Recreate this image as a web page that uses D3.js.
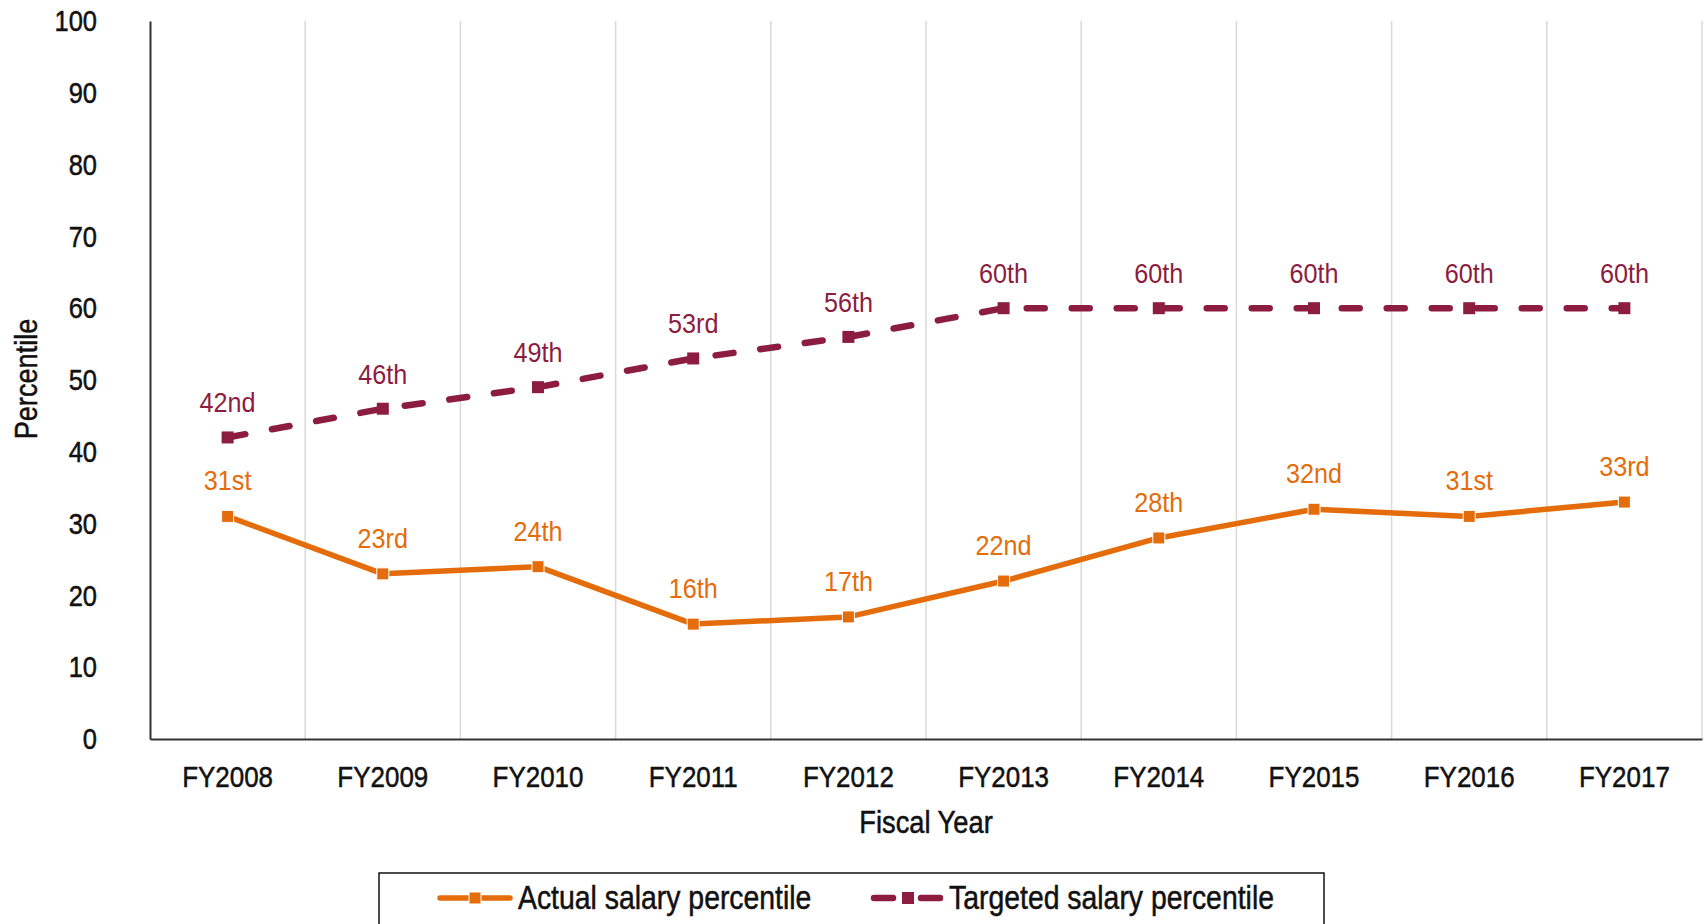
<!DOCTYPE html>
<html>
<head>
<meta charset="utf-8">
<script src="https://cdn.jsdelivr.net/npm/d3@7/dist/d3.min.js"></script>
<style>
  html, body { margin: 0; padding: 0; background: #fff; }
  svg { display: block; }
  text { font-family: "Liberation Sans Narrow", "Arial Narrow", "Liberation Sans", Arial, sans-serif; }
  .dark { fill: #111; stroke: #111; stroke-width: 0.5px; }
</style>
</head>
<body>
<svg id="chart" width="1706" height="924"></svg>
<script>
// Fiscal years on the x axis
const years = ["FY2008", "FY2009", "FY2010", "FY2011", "FY2012", "FY2013", "FY2014", "FY2015", "FY2016", "FY2017"];
// Actual salary percentile per year
const actual = [31, 23, 24, 16, 17, 22, 28, 32, 31, 33];
const actualLabels = ["31st", "23rd", "24th", "16th", "17th", "22nd", "28th", "32nd", "31st", "33rd"];
// Targeted salary percentile per year
const targeted = [42, 46, 49, 53, 56, 60, 60, 60, 60, 60];
const targetedLabels = ["42nd", "46th", "49th", "53rd", "56th", "60th", "60th", "60th", "60th", "60th"];
// Y-axis ticks
const yTicks = [0, 10, 20, 30, 40, 50, 60, 70, 80, 90, 100];

const seriesNames = ["Actual salary percentile", "Targeted salary percentile"];
const ORANGE = "#E46C0A";
const MAROON = "#8C1D40";

const svg = d3.select("#chart");
const plotLeft = 150, plotRight = 1702, plotTop = 21, plotBottom = 739;

const x = d3.scaleBand().domain(years).range([plotLeft, plotRight]).padding(0);
const y = d3.scaleLinear().domain([0, 100]).range([plotBottom, plotTop]);
const cx = d => x(d) + x.bandwidth() / 2;

// condensed look: squeeze glyphs horizontally
function condense(sel, k) {
  sel.each(function () {
    const w = this.getComputedTextLength();
    d3.select(this).attr("textLength", w * k).attr("lengthAdjust", "spacingAndGlyphs");
  });
}

// vertical category gridlines
svg.append("g")
  .selectAll("line")
  .data(years)
  .join("line")
  .attr("x1", d => x(d) + x.bandwidth())
  .attr("x2", d => x(d) + x.bandwidth())
  .attr("y1", plotTop)
  .attr("y2", plotBottom)
  .attr("stroke", "#d9d9d9")
  .attr("stroke-width", 1.5);

// y axis
const yAxis = svg.append("g")
  .attr("transform", `translate(${plotLeft},0)`)
  .call(d3.axisLeft(y).tickValues(yTicks).tickSize(0).tickPadding(53));
yAxis.select(".domain").attr("stroke", "#333").attr("stroke-width", 2);
yAxis.selectAll("text")
  .attr("font-size", 30)
  .attr("fill", null)
  .attr("class", "dark")
  .attr("font-family", null)
  .call(condense, 0.85);

// x axis
const xAxis = svg.append("g")
  .attr("transform", `translate(0,${plotBottom})`)
  .call(d3.axisBottom(x).tickSize(0).tickPadding(27));
xAxis.select(".domain").attr("stroke", "#333").attr("stroke-width", 2);
xAxis.selectAll("text")
  .attr("font-size", 30)
  .attr("fill", null)
  .attr("class", "dark")
  .attr("font-family", null)
  .call(condense, 0.865);

// axis titles
svg.append("text")
  .attr("class", "dark")
  .attr("x", (plotLeft + plotRight) / 2)
  .attr("y", 833)
  .attr("text-anchor", "middle")
  .attr("font-size", 31)
  .text("Fiscal Year")
  .call(condense, 0.88);

svg.append("text")
  .attr("class", "dark")
  .attr("transform", `translate(37,379) rotate(-90)`)
  .attr("text-anchor", "middle")
  .attr("font-size", 31)
  .text("Percentile")
  .call(condense, 0.875);

const line = d3.line().x((d, i) => cx(years[i])).y(d => y(d));

// targeted series (dashed)
svg.append("path")
  .datum(targeted)
  .attr("d", line)
  .attr("fill", "none")
  .attr("stroke", MAROON)
  .attr("stroke-width", 6.5)
  .attr("stroke-linecap", "round")
  .attr("stroke-dasharray", "18,27");

svg.append("g")
  .selectAll("rect")
  .data(targeted)
  .join("rect")
  .attr("x", (d, i) => cx(years[i]) - 6)
  .attr("y", d => y(d) - 6)
  .attr("width", 12)
  .attr("height", 12)
  .attr("fill", MAROON);

// actual series (solid)
svg.append("path")
  .datum(actual)
  .attr("d", line)
  .attr("fill", "none")
  .attr("stroke", ORANGE)
  .attr("stroke-width", 5.5)
  .attr("stroke-linejoin", "round");

svg.append("g")
  .selectAll("rect")
  .data(actual)
  .join("rect")
  .attr("x", (d, i) => cx(years[i]) - 6)
  .attr("y", d => y(d) - 6)
  .attr("width", 12)
  .attr("height", 12)
  .attr("fill", ORANGE)
  .attr("stroke", "#fff")
  .attr("stroke-width", 1);

// value labels
svg.append("g")
  .selectAll("text")
  .data(targeted)
  .join("text")
  .attr("x", (d, i) => cx(years[i]))
  .attr("y", d => y(d) - 25)
  .attr("text-anchor", "middle")
  .attr("font-size", 28)
  .attr("fill", MAROON)
  .text((d, i) => targetedLabels[i])
  .call(condense, 0.9);

svg.append("g")
  .selectAll("text")
  .data(actual)
  .join("text")
  .attr("x", (d, i) => cx(years[i]))
  .attr("y", d => y(d) - 26)
  .attr("text-anchor", "middle")
  .attr("font-size", 28)
  .attr("fill", ORANGE)
  .text((d, i) => actualLabels[i])
  .call(condense, 0.9);

// legend
const legend = svg.append("g");
legend.append("rect")
  .attr("x", 379)
  .attr("y", 873)
  .attr("width", 945)
  .attr("height", 70)
  .attr("fill", "#fff")
  .attr("stroke", "#111")
  .attr("stroke-width", 1.5);

const legendItems = [
  { name: seriesNames[0], color: ORANGE, x0: 438, dashed: false, tx: 518 },
  { name: seriesNames[1], color: MAROON, x0: 871, dashed: true, tx: 949 }
];
const ly = 898;
legendItems.forEach(it => {
  if (it.dashed) {
    legend.append("line").attr("x1", it.x0 + 3).attr("x2", it.x0 + 22).attr("y1", ly).attr("y2", ly)
      .attr("stroke", it.color).attr("stroke-width", 6.5).attr("stroke-linecap", "round");
    legend.append("line").attr("x1", it.x0 + 50).attr("x2", it.x0 + 69).attr("y1", ly).attr("y2", ly)
      .attr("stroke", it.color).attr("stroke-width", 6.5).attr("stroke-linecap", "round");
  } else {
    legend.append("line").attr("x1", it.x0 + 2).attr("x2", it.x0 + 72).attr("y1", ly).attr("y2", ly)
      .attr("stroke", it.color).attr("stroke-width", 5.5).attr("stroke-linecap", "round");
  }
  legend.append("rect").attr("x", it.x0 + 31).attr("y", ly - 6).attr("width", 12).attr("height", 12)
    .attr("fill", it.color).attr("stroke", it.dashed ? "none" : "#fff").attr("stroke-width", 1);
  legend.append("text").attr("class", "dark").attr("x", it.tx).attr("y", ly + 11)
    .attr("font-size", 33).text(it.name)
    .call(condense, 0.86);
});
</script>
</body>
</html>
